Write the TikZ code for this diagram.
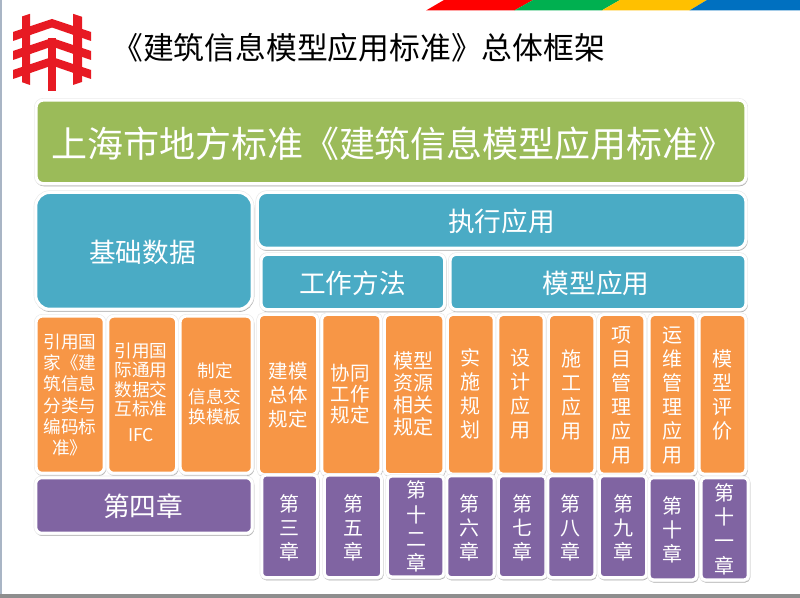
\documentclass[tikz,border=0pt]{standalone}
\usepackage{fontspec}
\setmainfont{Noto Sans CJK SC}
\definecolor{gr}{HTML}{9BBB59}
\definecolor{bl}{HTML}{4AABC5}
\definecolor{og}{HTML}{F79646}
\definecolor{pu}{HTML}{8064A2}
\definecolor{logored}{HTML}{E71A23}
\definecolor{bandred}{HTML}{FF0000}
\definecolor{bandgreen}{HTML}{00B050}
\definecolor{bandyellow}{HTML}{FFC000}
\definecolor{bandblue}{HTML}{0070C0}
\definecolor{leftstrip}{HTML}{A9B5C5}
\definecolor{bottomstrip}{HTML}{8E8E8E}
\tikzset{x=0.75pt,y=-0.75pt,
  lbl/.style={text=white,align=center,inner sep=0pt},
  colt/.style={lbl,font=\fontsize{15}{18}\selectfont},
  smallt/.style={lbl,font=\fontsize{13.2}{15.8}\selectfont},
  bigt/.style={lbl,font=\fontsize{20}{24}\selectfont}}
% panel: x1 y1 x2 y2 colour radius(px); the given corners are the edge of the visible fill
\newcommand{\bx}[6]{%
  \path[draw=black!32,line width=2.2pt,rounded corners=#6*0.75pt,shift={(0.6,1.3)}] (#1-1.5,#2-1.5) rectangle (#3+1.5,#4+1.5);
  \path[draw=black!8,line width=3.2pt,rounded corners=#6*0.75pt] (#1-1.5,#2-1.5) rectangle (#3+1.5,#4+1.5);
  \path[draw=white,fill=#5,line width=2.2pt,rounded corners=#6*0.75pt] (#1-1.5,#2-1.5) rectangle (#3+1.5,#4+1.5);}
\newcommand{\stack}[3]{\node[colt] (#1) at #2 {#3};}
\begin{document}
\begin{tikzpicture}
\useasboundingbox (0,0) rectangle (800,598);
\fill[white] (0,0) rectangle (800,598);
\fill[leftstrip] (0,0) rectangle (1.5,598);
\fill[bottomstrip] (0,594) rectangle (800,598);
% top colour band
\fill[bandred] (426,10.5) -- (444,0) -- (533,0) -- (514.3,10.5) -- cycle;
\fill[bandgreen] (514.3,10.5) -- (533,0) -- (620,0) -- (601.7,10.5) -- cycle;
\fill[bandyellow] (601.7,10.5) -- (620,0) -- (707,0) -- (689.5,10.5) -- cycle;
\fill[bandblue] (689.5,10.5) -- (707,0) -- (800,0) -- (800,10.5) -- cycle;
% logo
\fill[logored] (22,16.5) -- (30,13.8) -- (30,85) -- (22,82.2) -- cycle;
\fill[logored] (73,13.8) -- (82,16.8) -- (82,82) -- (73,85) -- cycle;
\fill[logored] (48,38) -- (56,38) -- (56,91) -- (48,91) -- cycle;
\foreach \d in {0,19,38}{
  \fill[logored] (13,32+\d) -- (52,19+\d) -- (91,32+\d) -- (91,41+\d) -- (52,27.5+\d) -- (13,41+\d) -- cycle;
}
% title
\node[text=black,inner sep=0pt,font=\fontsize{23.1}{27}\selectfont] (title) at (358.7,47.5) {《建筑信息模型应用标准》总体框架};
% top green
\bx{37.7}{101.7}{744.3}{182}{gr}{7}
\node[lbl,font=\fontsize{27}{32}\selectfont] (main) at (393,143.5) {上海市地方标准《建筑信息模型应用标准》};
% blue row
\bx{37.3}{194}{250.7}{307.7}{bl}{14}
\node[bigt] (base) at (142.5,252) {基础数据};
\bx{259}{194}{744.3}{246.7}{bl}{9}
\node[bigt] (exec) at (501.5,221) {执行应用};
\bx{262.7}{256}{443}{308}{bl}{6}
\node[bigt] (work) at (352.5,283) {工作方法};
\bx{451.7}{256}{744.3}{308}{bl}{6}
\node[bigt] (model) at (596,283) {模型应用};
% orange row
\bx{37.7}{317.7}{102.7}{471.7}{og}{6}
\bx{109.3}{317.7}{175}{471.7}{og}{6}
\bx{181.7}{317.7}{250.7}{471.7}{og}{6}
\bx{260}{316}{316}{473}{og}{5}
\bx{323.3}{316}{379.3}{473}{og}{5}
\bx{386}{316}{442.3}{473}{og}{5}
\bx{449}{316}{492.7}{472.7}{og}{5}
\bx{499.3}{316}{542.7}{472.7}{og}{5}
\bx{550}{316}{593.3}{472.7}{og}{5}
\bx{600}{316}{643.3}{472.7}{og}{5}
\bx{650.7}{316}{694.3}{472.7}{og}{5}
\bx{700.7}{316}{744.3}{472.7}{og}{5}
\node[lbl,font=\fontsize{13.2}{15.9}\selectfont] (oa) at (70,395) {引用国\\家《建\\筑信息\\分类与\\编码标\\准》};
\node[smallt,font=\fontsize{13.2}{14.4}\selectfont] (ob) at (141,380) {引用国\\际通用\\数据交\\互标准};
\node[lbl,font=\fontsize{13.2}{16}\selectfont] (obifc) at (141,435) {IFC};
\node[smallt] (oc1) at (215,371) {制定};
\node[smallt,font=\fontsize{13.2}{15}\selectfont] (oc2) at (215,407) {信息交\\换模板};
\node[colt,font=\fontsize{14.6}{18}\selectfont] (od) at (288,395) {建模\\总体\\规定};
\node[colt,font=\fontsize{14.6}{16}\selectfont] (oe) at (350,394) {协同\\工作\\规定};
\node[colt,font=\fontsize{15}{16.6}\selectfont] (of) at (413,394) {模型\\资源\\相关\\规定};
\stack{og1}{(470,393.5)}{实\\施\\规\\划}
\stack{oh}{(520,394.5)}{设\\计\\应\\用}
\stack{oi}{(571,394.5)}{施\\工\\应\\用}
\stack{oj}{(621,395)}{项\\目\\管\\理\\应\\用}
\stack{ok}{(672,395)}{运\\维\\管\\理\\应\\用}
\stack{ol}{(722,394.5)}{模\\型\\评\\价}
% purple row
\bx{37.3}{479.3}{250.7}{531.7}{pu}{6}
\node[bigt] (p4) at (143,506) {第四章};
\bx{263.3}{476.7}{316}{576}{pu}{4}
\bx{326}{476.7}{380}{576}{pu}{4}
\bx{389}{477.7}{442.3}{575.3}{pu}{4}
\bx{448.3}{477.3}{492.7}{576}{pu}{4}
\bx{500}{477.3}{544.3}{576}{pu}{4}
\bx{549.3}{477.3}{593.3}{576}{pu}{4}
\bx{601}{477.3}{645}{576}{pu}{4}
\bx{650.7}{479.3}{695}{578.3}{pu}{4}
\bx{702.7}{479.3}{746.7}{578.3}{pu}{4}
\stack{p3}{(289,527.5)}{第\\三\\章}
\stack{p5}{(353,527.5)}{第\\五\\章}
\node[colt,font=\fontsize{15}{18.2}\selectfont] (p12) at (416,526.5) {第\\十\\二\\章};
\stack{p6}{(469,527.5)}{第\\六\\章}
\stack{p7}{(522,527.5)}{第\\七\\章}
\stack{p8}{(570,527.5)}{第\\八\\章}
\stack{p9}{(623,528)}{第\\九\\章}
\stack{p10}{(672,529.5)}{第\\十\\章}
\node[colt,font=\fontsize{15}{18.2}\selectfont] (p11) at (724,529) {第\\十\\一\\章};
\end{tikzpicture}
\end{document}
